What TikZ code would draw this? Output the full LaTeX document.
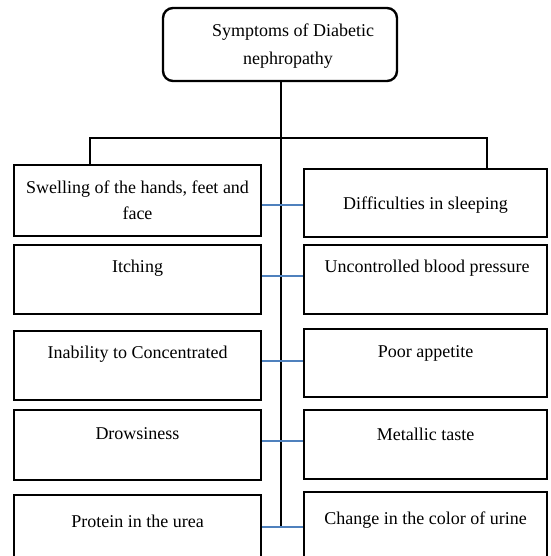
\documentclass[tikz,border=0pt]{standalone}
\usepackage{fontspec}
\setmainfont{Liberation Serif}
\definecolor{linkblue}{HTML}{4F81BD}
\tikzset{
  box/.style={draw=black, line width=2.2pt, rectangle, inner sep=0pt},
  topbox/.style={draw=black, line width=2.4pt, rounded corners=10pt, inner sep=0pt, minimum width=234pt, minimum height=73pt},
  lbl/.style={font=\fontsize{18}{26}\selectfont, inner sep=0pt, align=center},
  trunk/.style={draw=black, line width=2.2pt},
  link/.style={draw=linkblue, line width=1.8pt}
}
\begin{document}
\begin{tikzpicture}[x=1pt,y=-1pt]
\useasboundingbox (0,0) rectangle (550,556);
\clip (0,0) rectangle (550,556);
% top box
\node[topbox] (top) at (280,44.5) {};
\node[lbl] (toptxt1) at (293,32) {Symptoms of Diabetic};
\node[lbl] (toptxt2) at (288,60) {nephropathy};
% boxes
\node[box, minimum width=247pt, minimum height=71pt] (L1) at (137.5,200.5) {};
\node[box, minimum width=243pt, minimum height=68pt] (R1) at (425.5,203) {};
\node[box, minimum width=247pt, minimum height=69pt] (L2) at (137.5,279.5) {};
\node[box, minimum width=243pt, minimum height=69pt] (R2) at (425.5,279.5) {};
\node[box, minimum width=247pt, minimum height=69pt] (L3) at (137.5,365.5) {};
\node[box, minimum width=243pt, minimum height=68pt] (R3) at (425.5,363) {};
\node[box, minimum width=247pt, minimum height=70pt] (L4) at (137.5,445) {};
\node[box, minimum width=243pt, minimum height=69pt] (R4) at (425.5,444.5) {};
\node[box, minimum width=247pt, minimum height=70pt] (L5) at (137.5,530) {};
\node[box, minimum width=243pt, minimum height=70pt] (R5) at (425.5,527) {};
% texts
\node[lbl] (L1t) at (137.5,200) {Swelling of the hands, feet and\\face};
\node[lbl] (R1t) at (425.5,205) {Difficulties in sleeping};
\node[lbl] (L2t) at (137.5,268) {Itching};
\node[lbl] (R2t) at (427,268) {Uncontrolled blood pressure};
\node[lbl] (L3t) at (137.5,354) {Inability to Concentrated};
\node[lbl] (R3t) at (425.5,353) {Poor appetite};
\node[lbl] (L4t) at (137.5,434) {Drowsiness};
\node[lbl] (R4t) at (425.5,434) {Metallic taste};
\node[lbl] (L5t) at (137.5,521) {Protein in the urea};
\node[lbl] (R5t) at (425.5,520) {Change in the color of urine};
% trunk
\draw[trunk] (top.south -| 281,0) -- (281,527);
\draw[trunk] (L1.north -| 90,0) |- (487,138) -- (R1.north -| 487,0);
% blue links
\draw[link] (L1.east |- 0,205) -- (R1.west |- 0,205);
\draw[link] (L2.east |- 0,276) -- (R2.west |- 0,276);
\draw[link] (L3.east |- 0,361) -- (R3.west |- 0,361);
\draw[link] (L4.east |- 0,441) -- (R4.west |- 0,441);
\draw[link] (L5.east |- 0,527) -- (R5.west |- 0,527);
\end{tikzpicture}
\end{document}
